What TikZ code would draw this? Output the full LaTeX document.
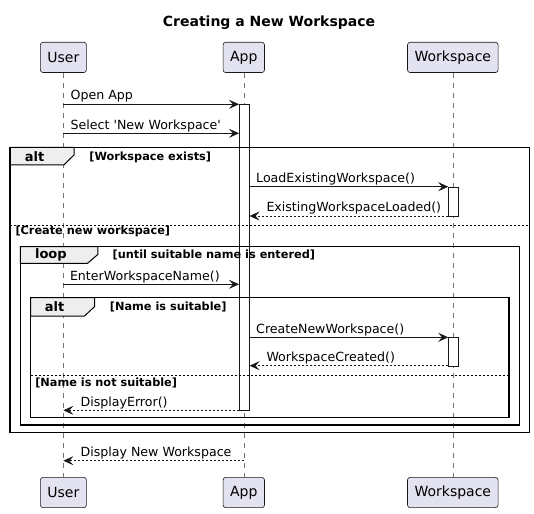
\documentclass[tikz,border=0pt]{standalone}
\usepackage{fontspec}
\setmainfont{DejaVu Sans}
\usetikzlibrary{arrows.meta}
\definecolor{lineC}{HTML}{181818}
\definecolor{partC}{HTML}{E2E2F0}
\definecolor{tabC}{HTML}{EEEEEE}
\tikzset{
 part/.style={draw=lineC, fill=partC, rounded corners=2.5pt, line width=0.6pt, minimum height=30.2pt, inner xsep=7pt, inner ysep=0pt, font=\fontsize{14}{16}\selectfont, text=black},
 lifeline/.style={draw=black!55, line width=0.6pt, dash pattern=on 5pt off 5pt},
 actbar/.style={draw=lineC, fill=white, line width=0.6pt, minimum width=10pt, inner sep=0pt},
 msg/.style={draw=lineC, line width=0.6pt, -{Stealth[length=10pt,width=9pt,inset=4pt]}},
 ret/.style={msg, dash pattern=on 2pt off 2pt},
 mlabel/.style={anchor=base west, inner sep=0pt, font=\fontsize{12.6}{15}\selectfont},
 framebox/.style={draw=black, line width=1.5pt},
 tabshape/.style={draw=black, fill=tabC, line width=1pt},
 tabtext/.style={font=\bfseries\fontsize{13}{15}\selectfont, inner sep=0pt},
 guard/.style={anchor=west, inner sep=0pt, font=\bfseries\fontsize{11.3}{13}\selectfont},
 sepline/.style={draw=black, line width=0.6pt, dash pattern=on 2pt off 2pt},
}
\begin{document}
\begin{tikzpicture}[x=1pt, y=-1pt]
\useasboundingbox (0,0) rectangle (534,513);
% title
\node[font=\bfseries\fontsize{14}{16}\selectfont, inner sep=0pt] (title) at (269,22.5) {Creating a New Workspace};
% participants
\node[part] (ut) at (63.4,57.4) {User};
\node[part] (at) at (243.8,57.4) {App};
\node[part] (wt) at (452.8,57.4) {Workspace};
\node[part] (ub) at (63.4,492.5) {User};
\node[part] (ab) at (243.8,492.5) {App};
\node[part] (wb) at (452.8,492.5) {Workspace};
% lifelines
\draw[lifeline] (ut) -- (ub);
\draw[lifeline] (at) -- (ab);
\draw[lifeline] (wt) -- (wb);
% activation bars
\node[actbar, anchor=north, minimum height=306pt] (aact) at (244.3,104.3) {};
\node[actbar, anchor=north, minimum height=29.3pt] (wact1) at (453.5,186.7) {};
\node[actbar, anchor=north, minimum height=28.4pt] (wact2) at (453.5,337.3) {};
% frames: tabs
\draw[tabshape] (9.8,147.3) -- (74,147.3) -- (74,155) -- (64,164.8) -- (9.8,164.8) -- cycle;
\draw[tabshape] (20.4,246.7) -- (97.8,246.7) -- (97.8,254.5) -- (87.5,263.3) -- (20.4,263.3) -- cycle;
\draw[tabshape] (30.7,297.7) -- (94.7,297.7) -- (94.7,306.5) -- (84.5,316) -- (30.7,316) -- cycle;
% frames
\draw[framebox] (9.8,147.3) rectangle (529.3,432.3);
\draw[framebox] (20.4,246.7) rectangle (519.4,425);
\draw[framebox] (30.7,297.7) rectangle (509.2,417.7);
\draw[sepline] (9.8,225.5) -- (529.3,225.5);
\draw[sepline] (30.7,375) -- (509.2,375);
% frame labels
\node[tabtext] (altA) at (34.6,156.6) {alt};
\node[guard] (gA) at (89.2,157.3) {[Workspace exists]};
\node[guard] (gB) at (15.3,231) {[Create new workspace]};
\node[tabtext] (loopL) at (50.9,255) {loop};
\node[guard] (gL) at (112.4,255.3) {[until suitable name is entered]};
\node[tabtext] (altB) at (54.5,306.6) {alt};
\node[guard] (gC) at (109.7,307) {[Name is suitable]};
\node[guard] (gD) at (35.1,382.7) {[Name is not suitable]};
% messages
\draw[msg] (ut |- 0,104.3) -- (aact.west |- 0,104.3);
\node[mlabel] (m1) at (70.5,100) {Open App};
\draw[msg] (ut |- 0,133.3) -- (aact.west |- 0,133.3);
\node[mlabel] (m2) at (70.5,129) {Select \textquotesingle New Workspace\textquotesingle};
\draw[msg] (aact.east |- 0,186.7) -- (wact1.west |- 0,186.7);
\node[mlabel] (m3) at (256,182.4) {LoadExistingWorkspace()};
\draw[ret] (wact1.west |- 0,216) -- (aact.east |- 0,216);
\node[mlabel] (m4) at (266.3,211.7) {ExistingWorkspaceLoaded()};
\draw[msg] (ut |- 0,284.3) -- (aact.west |- 0,284.3);
\node[mlabel] (m5) at (69.8,280) {EnterWorkspaceName()};
\draw[msg] (aact.east |- 0,337.3) -- (wact2.west |- 0,337.3);
\node[mlabel] (m6) at (256,333) {CreateNewWorkspace()};
\draw[ret] (wact2.west |- 0,365.7) -- (aact.east |- 0,365.7);
\node[mlabel] (m7) at (266.3,361.4) {WorkspaceCreated()};
\draw[ret] (aact.west |- 0,410.3) -- (ut |- 0,410.3);
\node[mlabel] (m8) at (80.4,406) {DisplayError()};
\draw[ret] (at |- 0,460.7) -- (ut |- 0,460.7);
\node[mlabel] (m9) at (80.4,456.4) {Display New Workspace};
\end{tikzpicture}
\end{document}
